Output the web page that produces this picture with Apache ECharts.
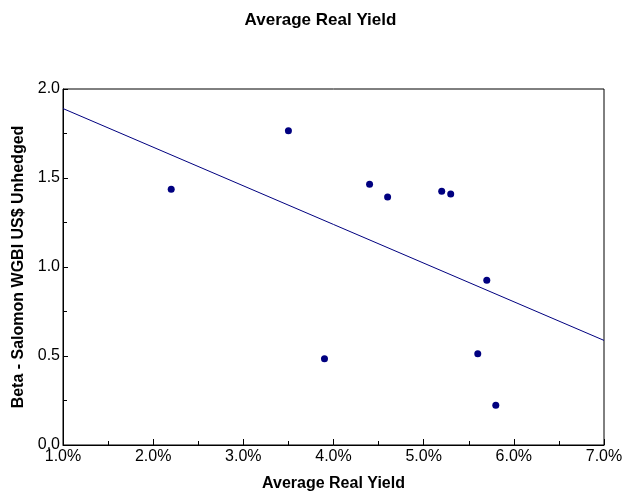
<!DOCTYPE html>
<html>
<head>
<meta charset="utf-8">
<script src="https://cdn.jsdelivr.net/npm/echarts@6/dist/echarts.min.js"></script>
<style>
  html, body { margin: 0; padding: 0; background: #fff; }
  #chart { width: 641px; height: 497px; }
</style>
</head>
<body>
<div id="chart"></div>
<script>
// Average real yield (%) and beta vs. Salomon WGBI US$ unhedged, per market
const realYield = [2.2, 3.5, 3.9, 4.4, 4.6, 5.2, 5.3, 5.7, 5.6, 5.8];
const beta = [1.437, 1.766, 0.485, 1.465, 1.393, 1.426, 1.41, 0.925, 0.513, 0.223];
const xRange = [1.0, 7.0];
const yRange = [0.0, 2.0];

// Least-squares fit of beta on real yield
function fitLine(xs, ys) {
  const n = xs.length;
  const mx = xs.reduce((a, b) => a + b, 0) / n;
  const my = ys.reduce((a, b) => a + b, 0) / n;
  let sxy = 0, sxx = 0;
  for (let i = 0; i < n; i++) {
    sxy += (xs[i] - mx) * (ys[i] - my);
    sxx += (xs[i] - mx) * (xs[i] - mx);
  }
  const slope = sxy / sxx;
  return { slope, intercept: my - slope * mx };
}
const fit = fitLine(realYield, beta);
const fitPoints = xRange.map(x => [x, fit.intercept + fit.slope * x]);
const points = realYield.map((x, i) => [x, beta[i]]);

const navy = '#000080';
const font = 'Liberation Sans, Arial, sans-serif';

const chart = echarts.init(document.getElementById('chart'), null, { renderer: 'canvas' });
chart.setOption({
  animation: false,
  backgroundColor: '#fff',
  title: {
    text: 'Average Real Yield',
    left: 'center',
    top: 12,
    padding: 0,
    textStyle: { fontFamily: font, fontSize: 17, fontWeight: 'bold', color: '#000' }
  },
  grid: {
    left: 63, right: 37, top: 89, bottom: 49,
    show: true, borderColor: '#000', borderWidth: 1, backgroundColor: 'transparent'
  },
  xAxis: {
    type: 'value',
    min: xRange[0], max: xRange[1], interval: 1,
    name: 'Average Real Yield',
    nameLocation: 'middle',
    nameGap: 31,
    nameTextStyle: { fontFamily: font, fontSize: 16, fontWeight: 'bold', color: '#000' },
    axisLine: { show: true, lineStyle: { color: '#000', width: 1 } },
    axisTick: { show: true, inside: true, length: 6, lineStyle: { color: '#000' } },
    minorTick: { show: true, splitNumber: 2, length: 4, lineStyle: { color: '#000' } },
    splitLine: { show: false },
    axisLabel: {
      fontFamily: font, fontSize: 16, color: '#000', margin: 4,
      formatter: v => v.toFixed(1) + '%'
    }
  },
  yAxis: {
    type: 'value',
    min: yRange[0], max: yRange[1], interval: 0.5,
    name: 'Beta - Salomon WGBI US$ Unhedged',
    nameLocation: 'middle',
    nameGap: 30,
    nameTextStyle: { fontFamily: font, fontSize: 16, fontWeight: 'bold', color: '#000' },
    axisLine: { show: true, lineStyle: { color: '#000', width: 1 } },
    axisTick: { show: true, inside: true, length: 5, lineStyle: { color: '#000' } },
    minorTick: { show: true, splitNumber: 2, length: 4, lineStyle: { color: '#000' } },
    splitLine: { show: false },
    axisLabel: {
      fontFamily: font, fontSize: 16, color: '#000', margin: 3,
      formatter: v => v.toFixed(1)
    }
  },
  series: [
    {
      type: 'line',
      data: fitPoints,
      symbol: 'none',
      lineStyle: { color: navy, width: 1 },
      silent: true,
      z: 2
    },
    {
      type: 'scatter',
      data: points,
      symbol: 'circle',
      symbolSize: 7,
      itemStyle: { color: navy, opacity: 1 },
      z: 3
    }
  ]
});
</script>
</body>
</html>
